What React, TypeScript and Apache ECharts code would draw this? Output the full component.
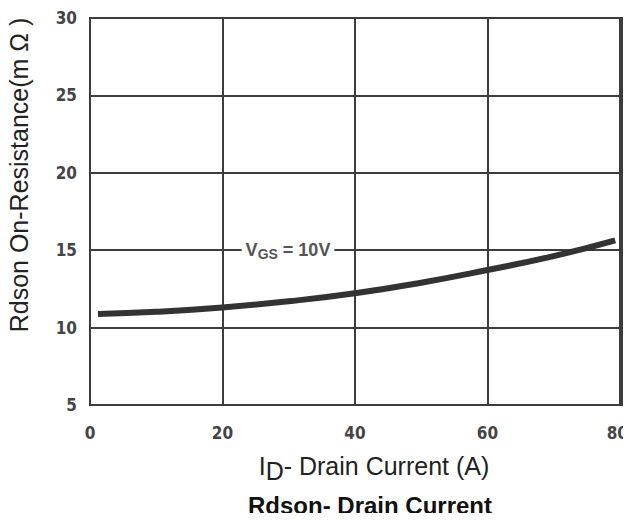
import React, { useEffect, useRef } from "react";
import * as echarts from "echarts";

const currentA = [1.2, 10, 20, 30, 40, 50, 60, 70, 79.3];
const rdsonMOhm = [10.88, 11.02, 11.3, 11.7, 12.22, 12.9, 13.72, 14.62, 15.64];
const xTicks = [0, 20, 40, 60, 80];
const yTicks = [5, 10, 15, 20, 25, 30];

export default function App() {
  const ref = useRef<HTMLDivElement>(null);
  useEffect(() => {
    const chart = echarts.init(ref.current!, null, { renderer: "svg" });
    const tickFont = "'DejaVu Sans Condensed', 'Liberation Sans Narrow', sans-serif";
    const lastX = xTicks[xTicks.length - 1];
    chart.setOption({
      animation: false,
      backgroundColor: "#ffffff",
      grid: { left: 90, right: 9, top: 18, bottom: 116, containLabel: false },
      xAxis: {
        type: "value",
        min: 0,
        max: 80,
        interval: 20,
        axisLine: { show: true, lineStyle: { color: "#3c3c3c", width: 2 } },
        axisTick: { show: false },
        splitLine: { show: true, lineStyle: { color: "#3c3c3c", width: 2 } },
        axisLabel: {
          margin: 19,
          color: "#444",
          fontSize: 17,
          fontWeight: "bold",
          fontFamily: tickFont,
          rich: {
            e: { fontSize: 17, fontWeight: "bold", fontFamily: tickFont, color: "#444", padding: [0, 5, 0, 0] },
          },
          formatter: (v: number) =>
            v === lastX ? `{e|${v}}` : xTicks.includes(v) ? String(v) : "",
        },
      },
      yAxis: {
        type: "value",
        min: 5,
        max: 30,
        interval: 5,
        axisLine: { show: true, lineStyle: { color: "#3c3c3c", width: 2 } },
        axisTick: { show: false },
        splitLine: { show: true, lineStyle: { color: "#3c3c3c", width: 2 } },
        axisLabel: {
          margin: 13,
          color: "#444",
          fontSize: 17,
          fontWeight: "bold",
          fontFamily: tickFont,
          padding: [0, 0, 4, 0],
          formatter: (v: number) => (yTicks.includes(v) ? String(v) : ""),
        },
      },
      graphic: [
        {
          type: "rect",
          shape: { x: 90, y: 18, width: 532, height: 387 },
          style: { fill: "none", stroke: "#3c3c3c", lineWidth: 2 },
          z: 1,
          silent: true,
        },
        {
          type: "text",
          x: 19,
          y: 175,
          rotation: Math.PI / 2,
          style: {
            text: "Rdson On-Resistance(m Ω )",
            font: "25px 'Liberation Sans', Arial, sans-serif",
            fill: "#222",
            align: "center",
            verticalAlign: "middle",
          },
        },
        {
          type: "text",
          x: 374,
          y: 466,
          style: {
            text: "{a|I}{s|D}{a|- Drain Current (A)}",
            align: "center",
            verticalAlign: "middle",
            rich: {
              a: { font: "25px 'Liberation Sans', Arial, sans-serif", fill: "#222" },
              s: { font: "25px 'Liberation Sans', Arial, sans-serif", fill: "#222", padding: [9, 0, 0, 0] },
            },
          },
        },
        {
          type: "text",
          x: 370,
          y: 505,
          style: {
            text: "Rdson- Drain Current",
            font: "bold 24px 'Liberation Sans', Arial, sans-serif",
            fill: "#111",
            align: "center",
            verticalAlign: "middle",
          },
        },
        {
          type: "text",
          x: 288,
          y: 250,
          z: 10,
          style: {
            text: "{v|V}{s|GS}{v| = 10V}",
            align: "center",
            verticalAlign: "middle",
            backgroundColor: "#fff",
            padding: [2, 4, 2, 4],
            rich: {
              v: { font: "bold 18px 'Liberation Sans', Arial, sans-serif", fill: "#555" },
              s: { font: "bold 14px 'Liberation Sans', Arial, sans-serif", fill: "#555", padding: [7, 0, 0, 0] },
            },
          },
        },
      ],
      series: [
        {
          type: "line",
          data: currentA.map((x, i) => [x, rdsonMOhm[i]]),
          smooth: true,
          showSymbol: false,
          lineStyle: { color: "#333", width: 6 },
          z: 5,
        },
      ],
    });
    return () => chart.dispose();
  }, []);
  return <div ref={ref} style={{ width: 631, height: 521, margin: -8 }} />;
}
